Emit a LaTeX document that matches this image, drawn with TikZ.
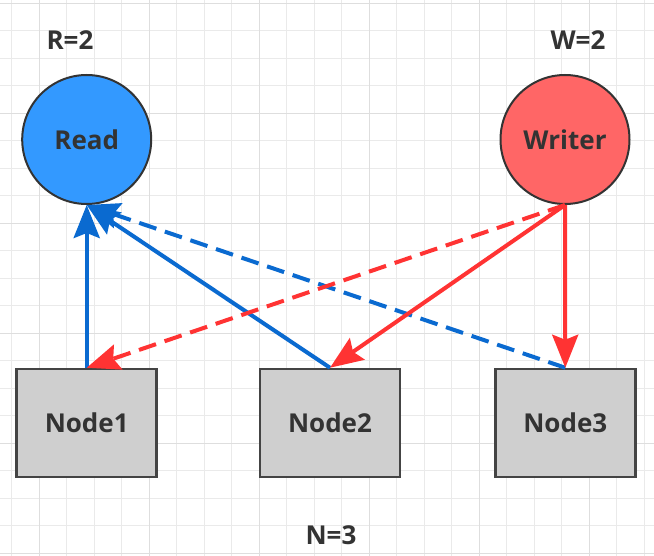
\documentclass[tikz,border=0pt]{standalone}
\usepackage{fontspec}
\setmainfont{Open Sans}
\usetikzlibrary{arrows.meta}
\definecolor{gridthin}{HTML}{EAEAEA}
\definecolor{gridthick}{HTML}{DEDEDE}
\definecolor{txt}{HTML}{333333}
\definecolor{readfill}{HTML}{3399FF}
\definecolor{writefill}{HTML}{FF6666}
\definecolor{boxfill}{HTML}{CFCFCF}
\definecolor{boxdraw}{HTML}{444444}
\definecolor{bluearrow}{HTML}{0A6AD0}
\definecolor{redarrow}{HTML}{FF3333}
\tikzset{
  lbl/.style={text=txt, font=\fontsize{26}{29}\selectfont\bfseries},
  client/.style={circle, draw=txt, line width=2pt, minimum size=129pt, inner sep=0pt, text=txt, font=\fontsize{26}{29}\selectfont\bfseries},
  server/.style={rectangle, draw=boxdraw, fill=boxfill, line width=2.5pt, minimum width=140pt, minimum height=108pt, inner sep=0pt, text=txt, font=\fontsize{26}{29}\selectfont\bfseries},
  conn/.style={line width=4pt, -{Stealth[length=33pt, width=26pt, inset=5pt]}},
  dashconn/.style={conn, dash pattern=on 18pt off 9pt},
}
\begin{document}
\begin{tikzpicture}[x=1pt, y=-1pt]
\useasboundingbox (0,0) rectangle (654,556);
\fill[white] (0,0) rectangle (654,556);
% grid
\foreach \i in {0,...,23} {
  \draw[gridthin, line width=1pt] ({11.8+27.5*\i},0) -- ({11.8+27.5*\i},556);
}
\foreach \i in {0,...,20} {
  \draw[gridthin, line width=1pt] (0,{3.3+27.5*\i}) -- (654,{3.3+27.5*\i});
}
\foreach \i in {0,...,5} {
  \draw[gridthick, line width=1.5pt] ({39.3+110*\i},0) -- ({39.3+110*\i},556);
  \draw[gridthick, line width=1.5pt] (0,{3.3+110*\i}) -- (654,{3.3+110*\i});
}
% nodes
\node[lbl] (rlabel) at (70,40) {R=2};
\node[lbl] (wlabel) at (578,40) {W=2};
\node[lbl] (nlabel) at (331,535) {N=3};
\node[client, fill=readfill] (read) at (86.7,139.5) {Read};
\node[client, fill=writefill] (writer) at (565,139.5) {Writer};
\node[server] (n1) at (86.7,423) {Node1};
\node[server] (n2) at (330,423) {Node2};
\node[server] (n3) at (565.3,423) {Node3};
% connectors
\draw[conn, bluearrow] (n1.north) -- (read.south);
\draw[conn, bluearrow] (n2.north) -- (read.south);
\draw[dashconn, bluearrow] (n3.north) -- (read.south);
\draw[dashconn, redarrow] (writer.south) -- (n1.north);
\draw[conn, redarrow] (writer.south) -- (n2.north);
\draw[conn, redarrow] (writer.south) -- (n3.north);
\end{tikzpicture}
\end{document}
